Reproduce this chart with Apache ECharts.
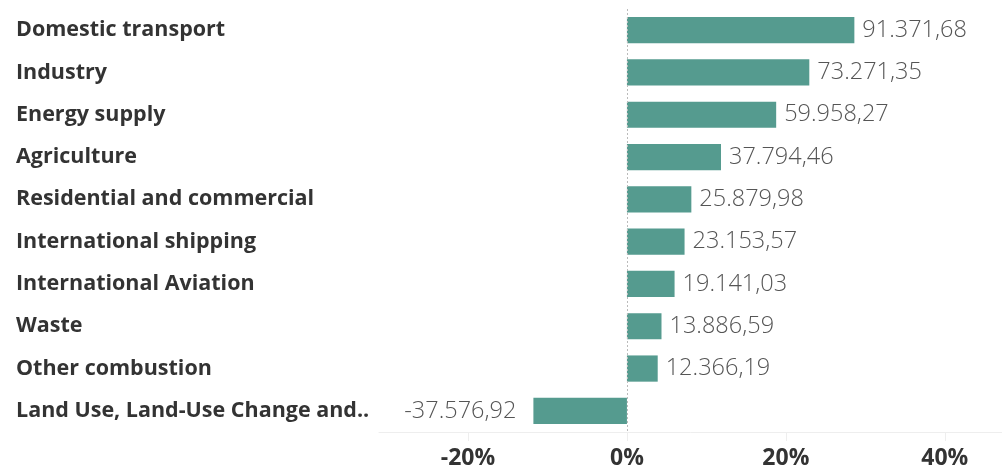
<!DOCTYPE html>
<html>
<head>
<meta charset="utf-8">
<script src="https://cdn.jsdelivr.net/npm/echarts@6/dist/echarts.min.js"></script>
<style>
  html, body { margin: 0; padding: 0; background: #fff; }
  #chart { width: 1002px; height: 472px; }
</style>
</head>
<body>
<div id="chart"></div>
<script>
// Emissions by sector: bar length is the share of the net total, label is the absolute value
const categories = [
  'Domestic transport',
  'Industry',
  'Energy supply',
  'Agriculture',
  'Residential and commercial',
  'International shipping',
  'International Aviation',
  'Waste',
  'Other combustion',
  'Land Use, Land-Use Change and..'
];
const values = [
  91371.68, 73271.35, 59958.27, 37794.46, 25879.98,
  23153.57, 19141.03, 13886.59, 12366.19, -37576.92
];
const tickValues = [-20, 0, 20, 40];

const total = values.reduce((a, b) => a + b, 0);
const shares = values.map(v => v / total * 100);

// 91371.68 -> "91.371,68"
function formatValue(v) {
  const neg = v < 0;
  const parts = Math.abs(v).toFixed(2).split('.');
  const intPart = parts[0].replace(/\B(?=(\d{3})+(?!\d))/g, '.');
  return (neg ? '-' : '') + intPart + ',' + parts[1];
}

const chart = echarts.init(document.getElementById('chart'), null, { renderer: 'canvas' });

chart.setOption({
  animation: false,
  backgroundColor: '#ffffff',
  grid: { left: 379, right: 0, top: 9, bottom: 40 },
  xAxis: {
    type: 'value',
    min: -31.2,
    max: 47.2,
    splitLine: { show: false },
    axisLine: { show: true, lineStyle: { color: '#eeeeee', width: 1 } },
    axisTick: {
      show: true,
      customValues: tickValues,
      length: 9,
      lineStyle: { color: '#eeeeee', width: 1 }
    },
    axisLabel: {
      customValues: tickValues,
      formatter: v => v + '%',
      color: '#333333',
      fontFamily: 'Open Sans',
      fontWeight: 'bold',
      fontSize: 23,
      margin: 15
    }
  },
  yAxis: {
    type: 'category',
    data: categories,
    inverse: true,
    axisLine: { show: false },
    axisTick: { show: false },
    splitLine: { show: false },
    axisLabel: {
      align: 'left',
      margin: 363,
      color: '#333333',
      fontFamily: 'Open Sans',
      fontWeight: 'bold',
      fontSize: 21.5,
      padding: [4, 0, 0, 0]
    }
  },
  series: [{
    type: 'bar',
    data: shares.map((s, i) => ({
      value: s,
      label: values[i] < 0
        ? { position: 'left', distance: 17, formatter: () => formatValue(values[i]) }
        : { position: 'right', distance: 8, formatter: () => formatValue(values[i]) }
    })),
    barCategoryGap: '38%',
    itemStyle: { color: '#559b8f' },
    label: {
      show: true,
      color: '#555555',
      fontFamily: 'Open Sans',
      fontWeight: 300,
      fontSize: 23.5,
      padding: [4, 0, 0, 0]
    },
    markLine: {
      silent: true,
      symbol: 'none',
      label: { show: false },
      lineStyle: { color: '#bbbbbb', type: [2, 2], width: 1 },
      data: [{ xAxis: 0 }]
    }
  }]
});
</script>
</body>
</html>
